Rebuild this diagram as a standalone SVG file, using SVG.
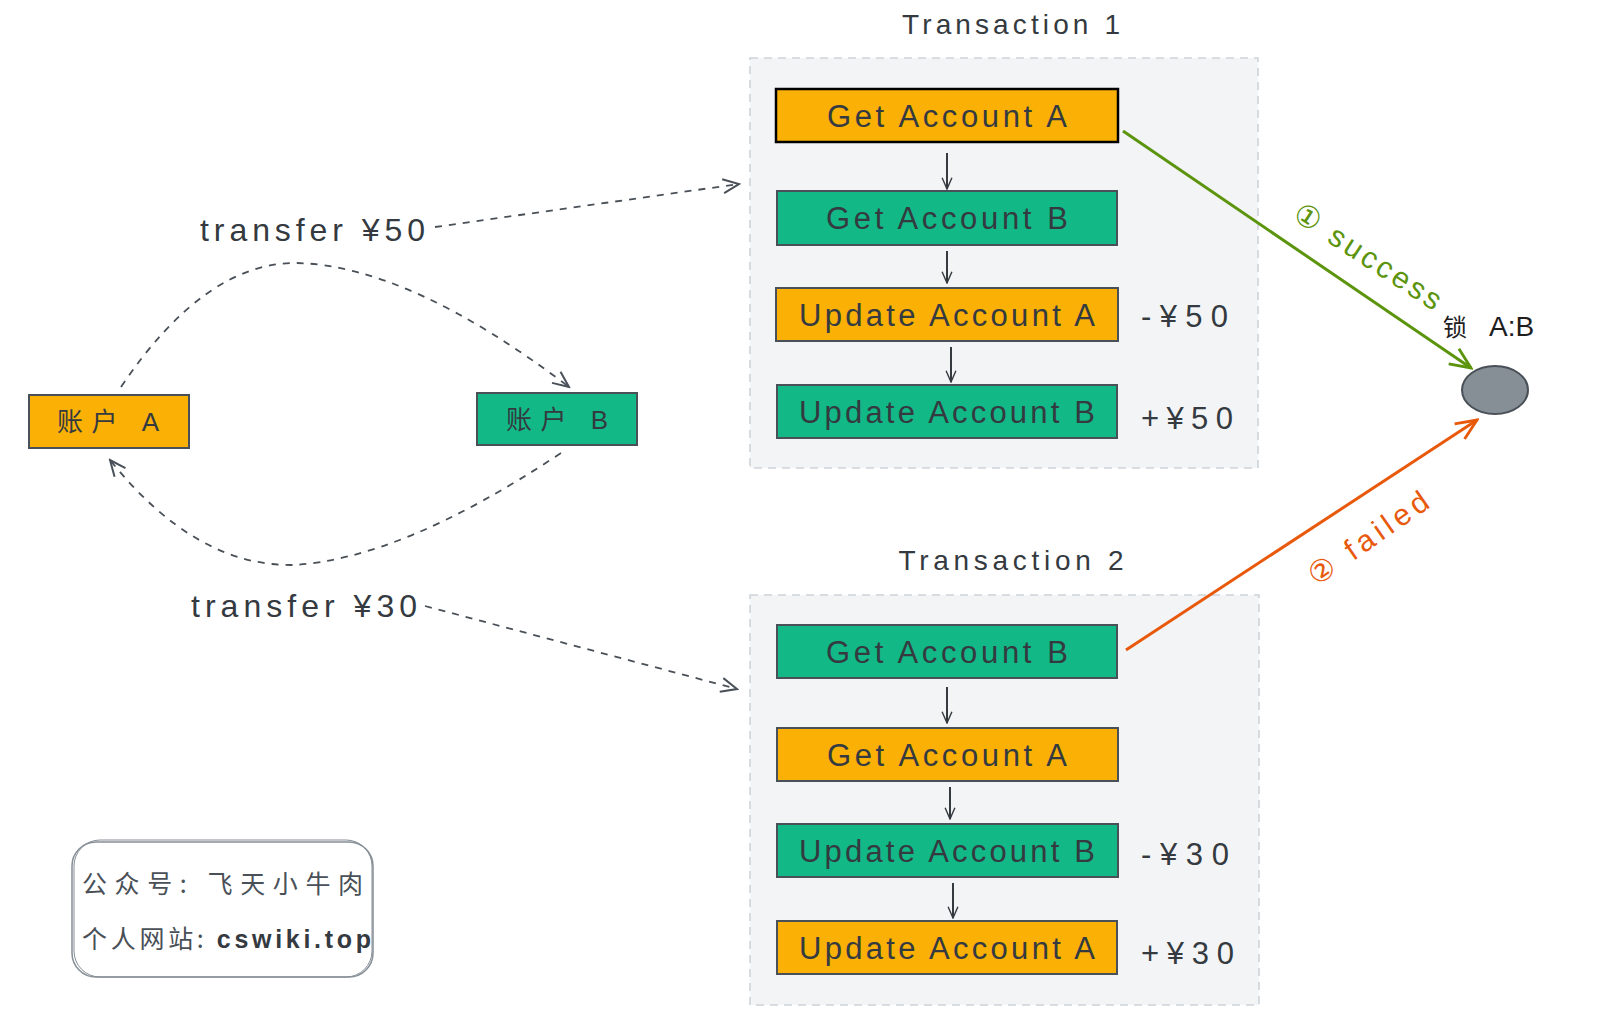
<svg xmlns="http://www.w3.org/2000/svg" width="1605" height="1030" viewBox="0 0 1605 1030">
<defs>
<style>
.t{font-family:"Liberation Sans","Noto Sans CJK SC",sans-serif;fill:#343a40}
.box{font-size:31px;text-anchor:middle;dominant-baseline:central}
.org{fill:#fab005;stroke:#495057;stroke-width:2}
.grn{fill:#12b886;stroke:#495057;stroke-width:2}
.cont{fill:#f3f4f6;stroke:#ced4da;stroke-width:1.6;stroke-dasharray:8 6}
.title{font-size:28px;text-anchor:middle}
.amt{font-size:31px}
.dash{fill:none;stroke:#495057;stroke-width:1.8;stroke-dasharray:7 7}
.v{fill:none;stroke:#343a40;stroke-width:2}
</style>
<marker id="ah" viewBox="0 0 20 20" refX="18" refY="10" markerWidth="20" markerHeight="20" markerUnits="userSpaceOnUse" orient="auto">
<path d="M2,3 L18,10 L2,17" fill="none" stroke="#495057" stroke-width="2"/>
</marker>
<marker id="as" viewBox="0 0 20 20" refX="18" refY="10" markerWidth="14" markerHeight="14" markerUnits="userSpaceOnUse" orient="auto">
<path d="M2,3 L18,10 L2,17" fill="none" stroke="#343a40" stroke-width="2"/>
</marker>
<marker id="ag" viewBox="0 0 20 20" refX="18" refY="10" markerWidth="26" markerHeight="26" markerUnits="userSpaceOnUse" orient="auto">
<path d="M2,3 L18,10 L2,17" fill="none" stroke="#5c940d" stroke-width="2.2"/>
</marker>
<marker id="ar" viewBox="0 0 20 20" refX="18" refY="10" markerWidth="26" markerHeight="26" markerUnits="userSpaceOnUse" orient="auto">
<path d="M2,3 L18,10 L2,17" fill="none" stroke="#e8590c" stroke-width="2.2"/>
</marker>
</defs>
<rect width="1605" height="1030" fill="#ffffff"/>

<g id="tx1">
<rect class="cont" x="750" y="58" width="508" height="410"/>
<text class="t title" x="1011" y="34" textLength="218">Transaction 1</text>
</g>
<g id="tx2">
<rect class="cont" x="750" y="595" width="509" height="410"/>
<text class="t title" x="1011" y="570" textLength="225">Transaction 2</text>
</g>

<g id="t1-getA"><rect x="776" y="89" width="342" height="53" fill="#fab005" stroke="#000" stroke-width="2.5"/><text class="t box" x="947" y="116" textLength="240">Get Account A</text></g>
<g id="t1-getB"><rect class="grn" x="777" y="191" width="340" height="54"/><text class="t box" x="947" y="218" textLength="242">Get Account B</text></g>
<g id="t1-updA"><rect class="org" x="776" y="288" width="342" height="53"/><text class="t box" x="947" y="315" textLength="296">Update Account A</text></g>
<g id="t1-updB"><rect class="grn" x="777" y="385" width="340" height="53"/><text class="t box" x="947" y="412" textLength="296">Update Account B</text></g>
<text class="t amt" x="1141" y="327" textLength="87">-¥50</text>
<text class="t amt" x="1141" y="429" textLength="92">+¥50</text>

<g id="t2-getB"><rect class="grn" x="777" y="625" width="340" height="53"/><text class="t box" x="947" y="652" textLength="242">Get Account B</text></g>
<g id="t2-getA"><rect class="org" x="777" y="728" width="341" height="53"/><text class="t box" x="947" y="755" textLength="240">Get Account A</text></g>
<g id="t2-updB"><rect class="grn" x="777" y="824" width="341" height="53"/><text class="t box" x="947" y="851" textLength="296">Update Account B</text></g>
<g id="t2-updA"><rect class="org" x="777" y="921" width="340" height="53"/><text class="t box" x="947" y="948" textLength="296">Update Account A</text></g>
<text class="t amt" x="1141" y="865" textLength="88">-¥30</text>
<text class="t amt" x="1141" y="964" textLength="93">+¥30</text>

<g id="accA"><rect class="org" x="29" y="395" width="160" height="53"/><text class="t" x="108" y="422" font-size="26" text-anchor="middle" dominant-baseline="central" textLength="102" fill="#495057">账户 A</text></g>
<g id="accB"><rect class="grn" x="477" y="393" width="160" height="52"/><text class="t" x="557" y="420" font-size="26" text-anchor="middle" dominant-baseline="central" textLength="102" fill="#495057">账户 B</text></g>

<g id="lock">
<ellipse cx="1495" cy="390" rx="33" ry="24" fill="#868e96" stroke="#495057" stroke-width="2"/>
<text x="1443" y="336" font-family="Noto Sans CJK SC,sans-serif" font-size="24" fill="#1e1e1e">锁</text>
<text x="1489" y="336" font-family="Liberation Sans,sans-serif" font-size="28" fill="#1e1e1e">A:B</text>
</g>

<g id="footer">
<rect x="72" y="842" width="301" height="135" rx="24" fill="#fff" stroke="#868e96" stroke-width="1.5"/>
<rect x="74" y="840" width="298" height="137" rx="26" fill="none" stroke="#868e96" stroke-width="1"/>
<text x="82" y="893" font-family="Noto Sans CJK SC,sans-serif" font-size="25" fill="#495057" textLength="281">公众号: 飞天小牛肉</text>
<text x="82" y="948" font-family="Liberation Sans,Noto Sans CJK SC,sans-serif" font-size="25" fill="#495057" textLength="289"><tspan font-family="Noto Sans CJK SC,sans-serif">个人网站: </tspan><tspan font-weight="bold" fill="#343a40">cswiki.top</tspan></text>
</g>

<g id="connectors">
<path class="v" marker-end="url(#as)" d="M947,153 L947,189"/>
<path class="v" marker-end="url(#as)" d="M947,251 L947,283"/>
<path class="v" marker-end="url(#as)" d="M951,347 L951,382"/>
<path class="v" marker-end="url(#as)" d="M947,687 L947,723"/>
<path class="v" marker-end="url(#as)" d="M950,787 L950,819"/>
<path class="v" marker-end="url(#as)" d="M953,883 L953,918"/>

<path class="dash" marker-end="url(#ah)" d="M435,227 L739,184"/>
<path class="dash" marker-end="url(#ah)" d="M425,606 L737,689"/>
<path class="dash" marker-end="url(#ah)" d="M121,387 Q205,262 297,263 Q410,266 569,387"/>
<path class="dash" marker-end="url(#ah)" d="M561,453 Q400,560 292,565 Q195,566 110,460"/>

<path d="M1123,131 L1471,368" fill="none" stroke="#5c940d" stroke-width="3" marker-end="url(#ag)"/>
<path d="M1126,650 L1477,420" fill="none" stroke="#e8590c" stroke-width="3" marker-end="url(#ar)"/>

<text x="1368" y="256" transform="rotate(33 1368 256)" font-family="Liberation Sans,DejaVu Sans,sans-serif" font-size="30" fill="#5c940d" text-anchor="middle" dominant-baseline="central" textLength="170">① success</text>
<text x="1368" y="538" transform="rotate(-35 1368 538)" font-family="Liberation Sans,DejaVu Sans,sans-serif" font-size="30" fill="#e8590c" text-anchor="middle" dominant-baseline="central" textLength="140">② failed</text>

<text class="t" x="200" y="241" font-size="32" textLength="225">transfer ¥50</text>
<text class="t" x="191" y="617" font-size="32" textLength="226">transfer ¥30</text>
</g>
</svg>
